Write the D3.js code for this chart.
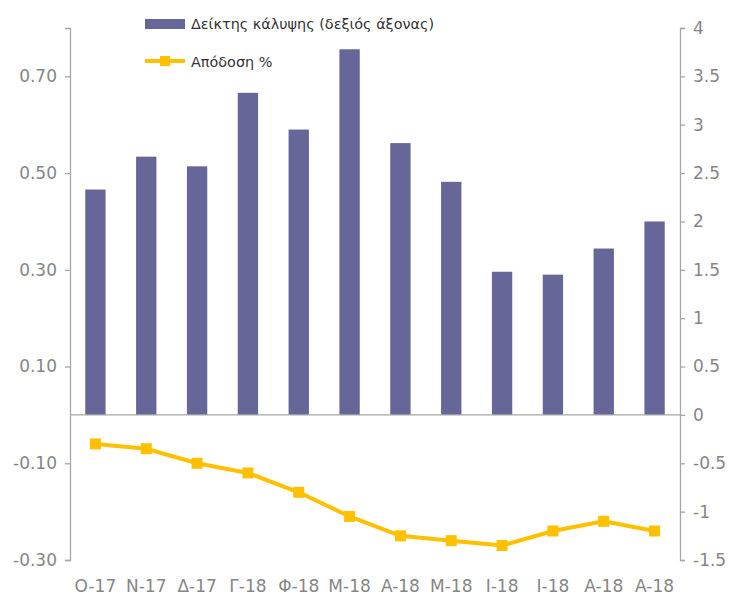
<!DOCTYPE html>
<html><head><meta charset="utf-8">
<script src="https://d3js.org/d3.v7.min.js"></script>
<style>body{margin:0;background:#fff;} text{font-family:"DejaVu Sans",Verdana,sans-serif;}</style>
</head><body><svg id="c" width="735" height="601"></svg>
<script>
const categories = ["O-17","N-17","Δ-17","Γ-18","Φ-18","M-18","A-18","M-18","I-18","I-18","A-18","A-18"];
const coverage = [2.33,2.67,2.57,3.33,2.95,3.78,2.81,2.41,1.48,1.45,1.72,2.0];
const yieldPct = [-0.06,-0.07,-0.10,-0.12,-0.16,-0.21,-0.25,-0.26,-0.27,-0.24,-0.22,-0.24];
const leftTicks = [0.70,0.50,0.30,0.10,-0.10,-0.30];
const rightTicks = [4,3.5,3,2.5,2,1.5,1,0.5,0,-0.5,-1,-1.5];
const seriesNames = ["Δείκτης κάλυψης (δεξιός άξονας)","Απόδοση %"];

const svg = d3.select("#c");
const L = 70, R = 680, T = 28, B = 560;
const x = d3.scaleBand().domain(d3.range(categories.length)).range([L,R]).paddingInner(0.6).paddingOuter(0.3);
const yL = d3.scaleLinear().domain([-0.3,0.8]).range([B,T]);
const yR = d3.scaleLinear().domain([-1.5,4]).range([B,T]);
const axisCol = "#a6a6a6", labCol = "#868686";

// bars
svg.append("g").selectAll("rect").data(coverage).join("rect")
  .attr("x",(d,i)=>x(i)).attr("width",x.bandwidth())
  .attr("y",d=>yR(Math.max(0,d))).attr("height",d=>Math.abs(yR(d)-yR(0)))
  .attr("fill","#666699");

// zero line
svg.append("line").attr("x1",L).attr("x2",R).attr("y1",yR(0)).attr("y2",yR(0)).attr("stroke",axisCol).attr("stroke-width",1.3);

// left axis
const gl = svg.append("g").attr("transform",`translate(${L},0)`)
  .call(d3.axisLeft(yL).tickValues(leftTicks).tickFormat(d3.format(".2f")).tickSize(5).tickPadding(8));
// right axis
const gr = svg.append("g").attr("transform",`translate(${R},0)`)
  .call(d3.axisRight(yR).tickValues(rightTicks).tickFormat(d=>d3.format("")(d)).tickSize(5).tickPadding(8));
[gl,gr].forEach(g=>{
  g.select(".domain").attr("stroke",axisCol).attr("stroke-width",1.3);
  g.selectAll(".tick line").attr("stroke",axisCol).attr("stroke-width",1.3);
  g.selectAll(".tick text").attr("fill",labCol).style("font-size","17px").style("font-family","'DejaVu Sans',sans-serif");
});
gl.selectAll(".tick text").text(d=>d3.format(".2f")(d).replace("−","-"));
gr.selectAll(".tick text").text(d=>String(d));

// category labels
svg.append("g").selectAll("text").data(categories).join("text")
  .attr("x",(d,i)=>x(i)+x.bandwidth()/2).attr("y",592)
  .attr("text-anchor","middle").attr("fill",labCol).style("font-size","17px").text(d=>d);

// line
const cx = i => x(i)+x.bandwidth()/2;
svg.append("path").datum(yieldPct)
  .attr("d",d3.line().x((d,i)=>cx(i)).y(d=>yL(d)))
  .attr("fill","none").attr("stroke","#FFC000").attr("stroke-width",4).attr("stroke-linejoin","round");
svg.append("g").selectAll("rect").data(yieldPct).join("rect")
  .attr("x",(d,i)=>cx(i)-5.5).attr("y",d=>yL(d)-5.5).attr("width",11).attr("height",11).attr("fill","#FFC000");

// legend
const lg = svg.append("g");
lg.append("rect").attr("x",145).attr("y",19).attr("width",40).attr("height",10).attr("fill","#666699");
lg.append("text").attr("x",191).attr("y",29).attr("fill","#333").style("font-size","14.4px").text(seriesNames[0]);
lg.append("line").attr("x1",145).attr("x2",185).attr("y1",61).attr("y2",61).attr("stroke","#FFC000").attr("stroke-width",4);
lg.append("rect").attr("x",160).attr("y",56).attr("width",10).attr("height",10).attr("fill","#FFC000");
lg.append("text").attr("x",191).attr("y",67).attr("fill","#333").style("font-size","14.4px").text(seriesNames[1]);
</script></body></html>
